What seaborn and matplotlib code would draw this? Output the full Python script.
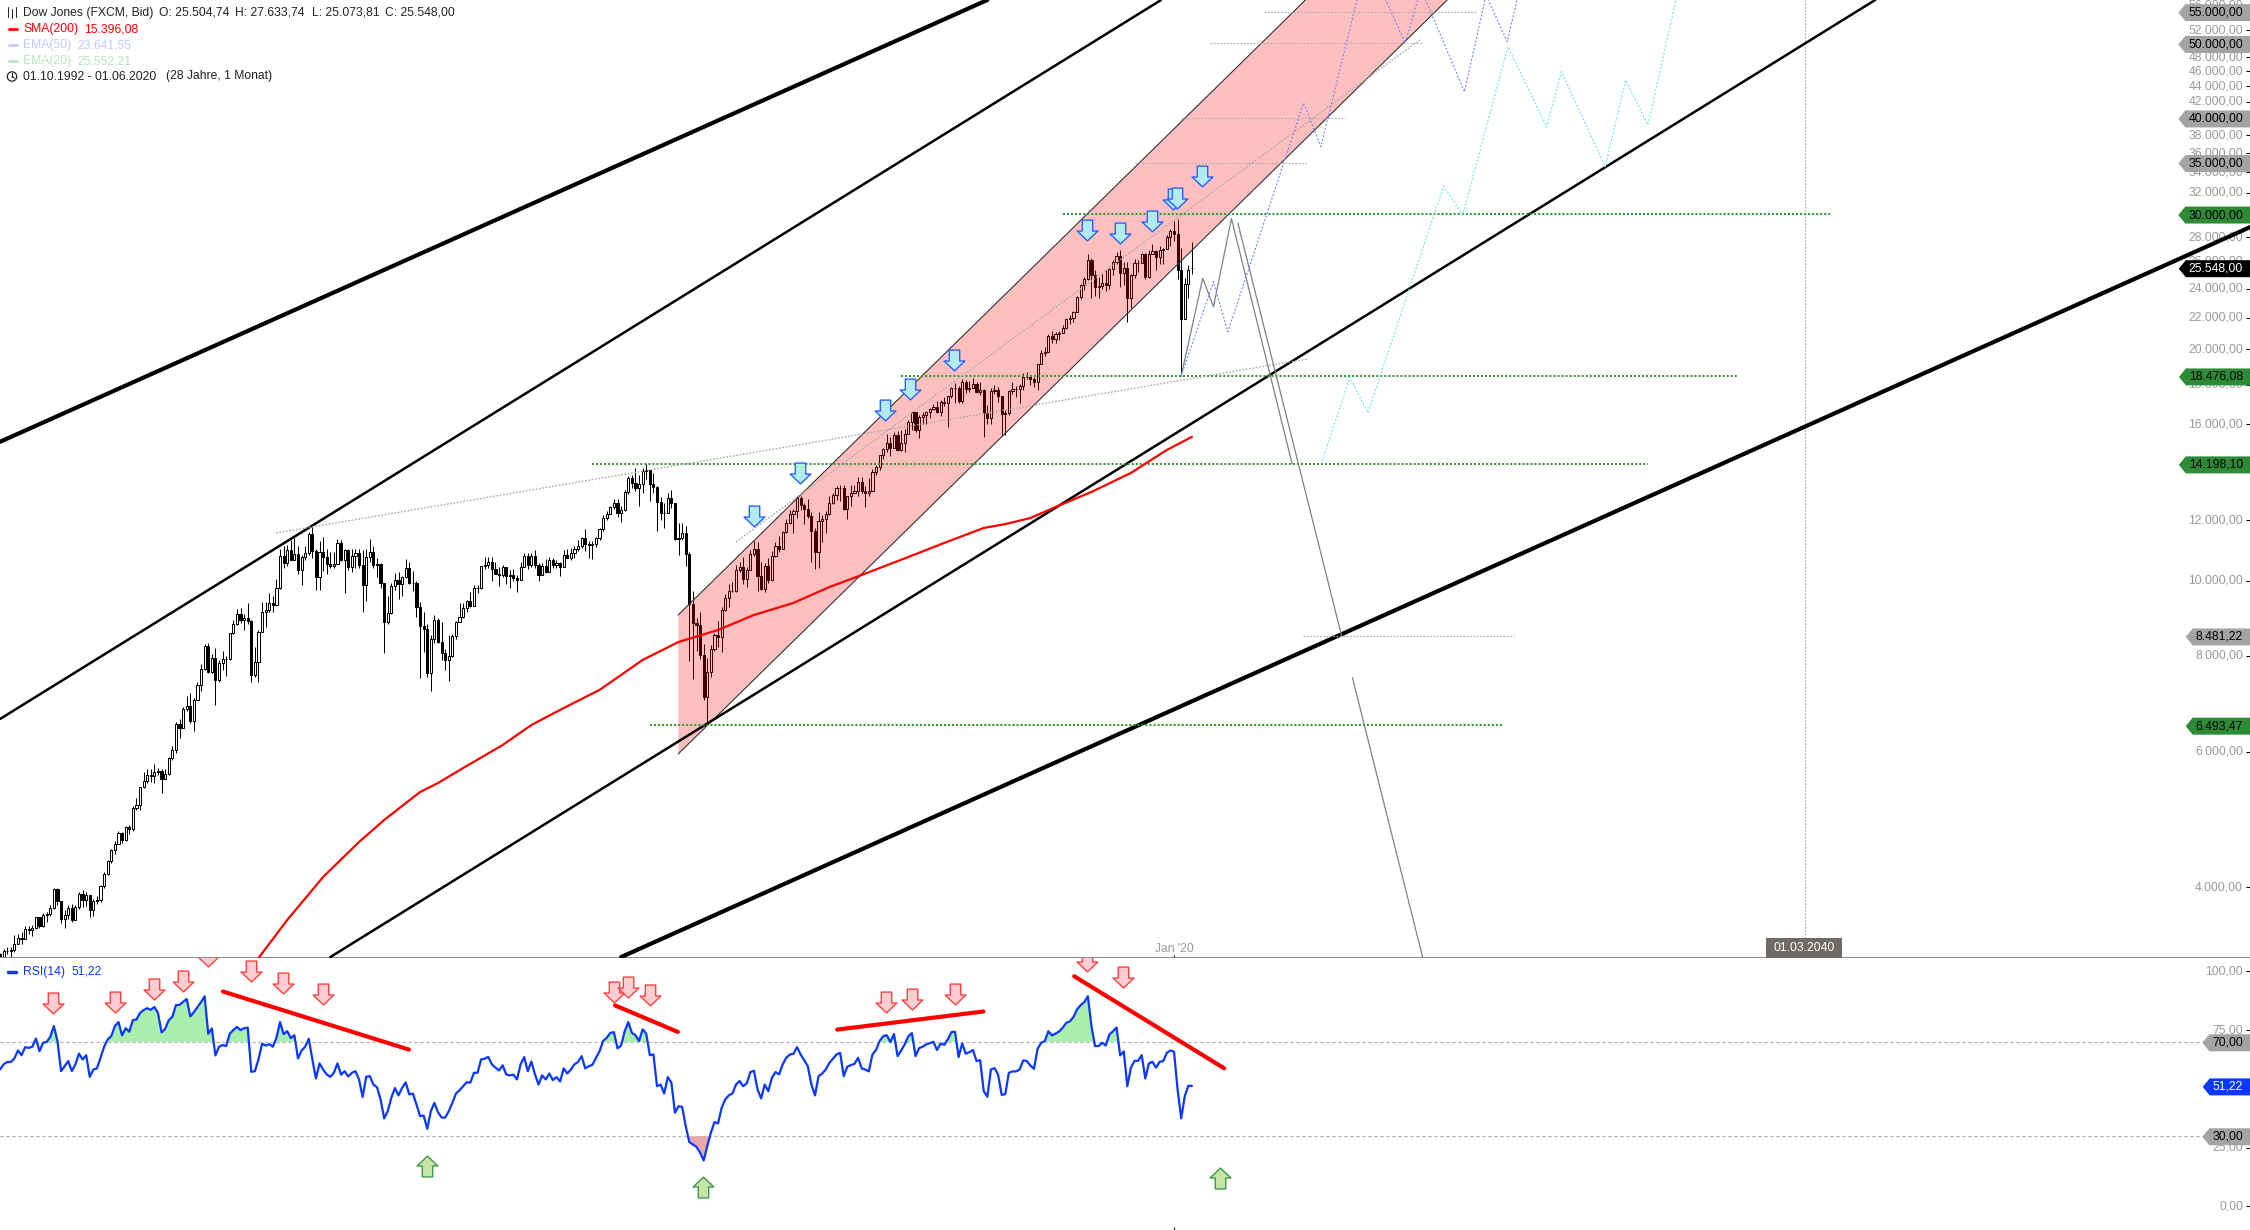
# dow_jones_monthly_chart.py

import numpy as np
import matplotlib
matplotlib.use("Agg")
import matplotlib.pyplot as plt
from matplotlib.lines import Line2D
from matplotlib.patches import Circle
from matplotlib.path import Path
import seaborn as sns

# -------------------------------
# MONTHLY PRICE DATA (Oct 1992 - Jun 2020), bar index = months since Oct 1992
# -------------------------------

closes = [
    3226, 3305, 3301,
    3310, 3370, 3435, 3428, 3527, 3516, 3539, 3651, 3555, 3680, 3684, 3754,
    3978, 3832, 3636, 3682, 3758, 3625, 3765, 3913, 3843, 3908, 3739, 3834,
    3844, 4011, 4158, 4321, 4465, 4556, 4709, 4611, 4789, 4756, 5075, 5117,
    5395, 5486, 5587, 5569, 5643, 5655, 5529, 5616, 5882, 6029, 6522, 6448,
    6813, 6878, 6584, 7009, 7331, 7673, 8223, 7622, 7945, 7442, 7823, 7908,
    7907, 8546, 8800, 9063, 8900, 8952, 8883, 7539, 7843, 8592, 9117, 9181,
    9359, 9307, 9786, 10789, 10560, 10971, 10655, 10829, 10337, 10730, 10878, 11497,
    10941, 10128, 10922, 10734, 10522, 10448, 10522, 11215, 10651, 10971, 10415, 10788,
    10887, 10495, 9879, 10735, 10912, 10502, 10523, 9950, 8848, 9075, 9852, 10021,
    9920, 10106, 10404, 9946, 9925, 9243, 8737, 8664, 7592, 8397, 8896, 8342,
    8054, 7891, 7992, 8480, 8850, 8985, 9234, 9416, 9275, 9801, 9782, 10454,
    10488, 10584, 10358, 10226, 10188, 10435, 10140, 10174, 10080, 10027, 10428, 10783,
    10490, 10766, 10504, 10193, 10467, 10275, 10641, 10482, 10569, 10440, 10806, 10718,
    10864, 10993, 11109, 11367, 11168, 11150, 11186, 11381, 11679, 12080, 12222, 12463,
    12622, 12269, 12354, 13063, 13628, 13409, 13212, 13358, 13896, 13930, 13372, 13265,
    12650, 12266, 12263, 12820, 12638, 11350, 11378, 11544, 10851, 9325, 8829, 8776,
    8001, 7063, 7609, 8168, 8500, 8447, 9172, 9496, 9712, 9713, 10345, 10428,
    10067, 10325, 10857, 11009, 10137, 9774, 10466, 10015, 10788, 11118, 11006, 11578,
    11892, 12226, 12320, 12811, 12570, 12414, 12143, 11614, 10913, 11955, 12046, 12218,
    12633, 12952, 13212, 13214, 12393, 12880, 13009, 13090, 13437, 13096, 13026, 13104,
    13861, 14054, 14579, 14840, 15116, 14910, 15500, 14810, 15130, 15546, 16086, 16577,
    15699, 16322, 16458, 16580, 16717, 16827, 16563, 17098, 17043, 17391, 17828, 17823,
    17165, 18133, 17776, 17841, 18011, 17620, 17690, 16528, 16285, 17664, 17720, 17425,
    16466, 16517, 17685, 17774, 17787, 17930, 18432, 18401, 18308, 18142, 19124, 19763,
    19864, 20812, 20663, 20941, 21009, 21350, 21891, 21948, 22405, 23377, 24272, 24719,
    26149, 25029, 24103, 24163, 24416, 24271, 25415, 25965, 26458, 25116, 25538, 23327,
    24999, 25916, 25929, 26593, 24815, 26600, 26864, 26403, 26917, 27046, 28051, 28538,
    28256, 25409, 21917, 24346, 25383, 25548,
]

highs = [
    3280, 3320, 3340,
    3340, 3460, 3480, 3500, 3555, 3560, 3570, 3660, 3660, 3700, 3710, 3795,
    3990, 3990, 3840, 3730, 3790, 3800, 3790, 3940, 3960, 3940, 3870, 3860,
    3890, 4020, 4180, 4340, 4480, 4590, 4730, 4720, 4800, 4810, 5100, 5220,
    5400, 5650, 5690, 5690, 5780, 5720, 5700, 5700, 5900, 6100, 6560, 6620,
    6850, 7080, 7160, 7040, 7400, 7800, 8270, 8300, 8040, 8180, 7900, 8120,
    7980, 8570, 8900, 9190, 9230, 9070, 9370, 8900, 8200, 8640, 9390, 9380,
    9650, 9560, 10070, 11000, 11110, 11140, 11300, 11390, 11120, 10800, 11090, 11570,
    11750, 11020, 11270, 11420, 11010, 10900, 10910, 11350, 11310, 11000, 11000, 10990,
    10990, 11000, 10980, 10990, 11350, 11120, 10700, 10550, 9950, 9550, 9950, 10240,
    10260, 10150, 10670, 10600, 10290, 10000, 9400, 9100, 8800, 8500, 9040, 8960,
    8850, 8160, 8500, 8540, 8880, 9370, 9350, 9440, 9680, 9880, 9880, 10470,
    10760, 10760, 10750, 10570, 10420, 10490, 10410, 10330, 10380, 10190, 10590, 10860,
    10860, 10860, 10980, 10540, 10550, 10670, 10730, 10720, 10660, 10570, 10980, 10990,
    11050, 11090, 11300, 11420, 11700, 11260, 11260, 11400, 11730, 12170, 12330, 12520,
    12770, 12800, 12500, 13130, 13700, 13720, 14010, 13750, 14020, 14200, 13700, 13800,
    13280, 12850, 12620, 13000, 13150, 12630, 11880, 11880, 11790, 10900, 9700, 8950,
    9100, 8280, 7930, 8260, 8570, 8880, 9240, 9630, 9900, 9960, 10500, 10580,
    10730, 10420, 10960, 11260, 11250, 10600, 10550, 10720, 10950, 11250, 11450, 11630,
    12030, 12380, 12420, 12880, 12880, 12620, 12770, 12300, 11720, 12280, 12190, 12320,
    12900, 13000, 13290, 13340, 13340, 12910, 13340, 13330, 13660, 13660, 13290, 13620,
    13970, 14150, 14590, 14890, 15550, 15400, 15640, 15660, 15710, 15760, 16170, 16590,
    16590, 16420, 16590, 16630, 16770, 16980, 17150, 17180, 17350, 17400, 17900, 18100,
    17950, 18290, 18250, 18180, 18350, 18170, 18140, 17750, 16950, 17800, 17980, 17900,
    17420, 16700, 17720, 18170, 17950, 18020, 18620, 18670, 18450, 18400, 19150, 19990,
    20120, 20980, 21170, 21070, 21110, 21550, 21930, 22180, 22420, 23480, 24330, 24880,
    26620, 26300, 25400, 24860, 25090, 25400, 25500, 26170, 26770, 26950, 26000, 25980,
    25100, 26240, 26150, 26700, 26700, 26900, 27400, 26900, 27300, 27100, 28170, 28700,
    29400, 29570, 27100, 24800, 25760, 27633,
]

lows = [
    3137, 3190, 3270,
    3240, 3290, 3370, 3370, 3430, 3470, 3450, 3530, 3535, 3550, 3600, 3670,
    3750, 3790, 3590, 3540, 3630, 3600, 3620, 3750, 3770, 3780, 3660, 3670,
    3800, 3830, 3990, 4150, 4300, 4410, 4550, 4570, 4590, 4690, 4730, 5030,
    5040, 5380, 5460, 5470, 5460, 5590, 5300, 5520, 5590, 5850, 5980, 6250,
    6430, 6780, 6530, 6390, 7000, 7200, 7650, 7600, 7600, 6900, 7380, 7660,
    7520, 7900, 8530, 8770, 8820, 8630, 8800, 7400, 7500, 7400, 8580, 8700,
    9100, 9120, 9270, 9760, 10390, 10460, 10660, 10640, 10200, 9880, 10650, 10810,
    10700, 9730, 9730, 10300, 10200, 10400, 10400, 10570, 10630, 9650, 10340, 10260,
    10400, 10400, 9100, 9430, 10600, 10400, 10120, 9800, 8060, 8800, 9060, 9740,
    9480, 9550, 10090, 9900, 9700, 8980, 7480, 8090, 7500, 7200, 8300, 8300,
    7900, 7670, 7420, 7970, 8410, 8890, 8950, 9100, 9240, 9400, 9640, 9770,
    10350, 10390, 10000, 10200, 9850, 10130, 9920, 9780, 9990, 9690, 10020, 10440,
    10360, 10440, 10400, 10010, 10170, 10240, 10280, 10390, 10400, 10150, 10420, 10700,
    10650, 10720, 10930, 11040, 10950, 10710, 10690, 11080, 11300, 11630, 12000, 12220,
    12420, 12100, 11930, 12330, 12980, 13200, 13100, 12500, 13000, 13580, 12720, 13020,
    11600, 12020, 11730, 12250, 12440, 11320, 10800, 11300, 10460, 7880, 7450, 8100,
    7910, 7000, 6493, 7500, 8100, 8200, 8080, 9150, 9250, 9670, 9680, 10280,
    9900, 9830, 10400, 10780, 9700, 9730, 9690, 9930, 10000, 10730, 10920, 11000,
    11560, 11850, 11550, 12090, 12380, 11870, 12070, 10600, 10360, 10400, 11230, 11530,
    12200, 12600, 12750, 12710, 12350, 12040, 12500, 13000, 12900, 13000, 12470, 12880,
    13100, 13730, 13930, 14400, 14700, 14550, 14900, 14760, 14780, 14720, 15520, 15700,
    15620, 15340, 16000, 16020, 16300, 16700, 16560, 16370, 16900, 15850, 17300, 17050,
    17030, 17040, 17580, 17620, 17800, 17580, 17470, 15370, 16000, 16000, 17500, 17100,
    15450, 15500, 16450, 17500, 17330, 17060, 17720, 18290, 18000, 17900, 17700, 19140,
    19600, 19830, 20410, 20380, 20550, 21000, 21250, 21600, 21700, 22400, 23240, 23930,
    24660, 23360, 23500, 23340, 24000, 23800, 24000, 25000, 25800, 24100, 24270, 21710,
    22640, 24800, 25200, 25900, 24700, 24800, 26600, 25340, 25800, 25800, 27100, 27300,
    27700, 24680, 18476, 22940, 23360, 25073,
]

# each month opens about where the last one closed, the last open is in the header
opens = [3270] + closes[:-2] + [25504.74]

sma_bars = [72, 80, 90, 100, 107, 117, 122, 129, 140, 148, 157, 167, 179, 189,
            200, 210, 221, 231, 240, 253, 263, 274, 280, 287, 294, 304, 315, 325, 332]
sma_values = [3234, 3624, 4122, 4577, 4889, 5316, 5461, 5712, 6119, 6497, 6836, 7217, 7895, 8331,
              8635, 9032, 9365, 9820, 10181, 10745, 11207, 11720, 11858, 12074, 12480, 13055,
              13820, 14805, 15396]

rsi_values = [
    58.2, 60.4, 61.4, 61.4, 62.9, 66.3, 64.3, 67.7, 67.4, 67.9, 71.4, 66.0,
    69.6, 69.9, 72.1, 76.7, 70.3, 57.5, 59.6, 61.8, 57.5, 60.4, 65.0, 62.5,
    64.3, 55.1, 58.2, 58.7, 63.2, 67.9, 71.0, 72.4, 76.7, 78.4, 72.7, 75.8,
    74.3, 79.2, 79.5, 82.3, 83.5, 84.3, 83.6, 84.8, 82.3, 74.0, 75.5, 79.2,
    80.6, 85.6, 85.7, 87.0, 88.2, 80.8, 82.6, 84.8, 86.9, 89.4, 73.4, 75.7,
    64.2, 67.9, 68.6, 68.2, 73.5, 75.0, 76.3, 75.0, 75.8, 76.0, 57.2, 57.5,
    62.5, 69.2, 68.4, 69.0, 67.9, 71.7, 78.4, 73.3, 74.5, 71.6, 72.8, 62.9,
    66.3, 67.9, 71.3, 62.5, 54.4, 60.8, 58.2, 56.1, 55.1, 56.8, 60.8, 56.0,
    57.5, 55.2, 56.8, 57.5, 54.0, 46.5, 55.1, 55.4, 51.8, 50.7, 45.5, 37.4,
    40.5, 46.2, 50.3, 47.2, 50.4, 52.7, 47.6, 48.0, 43.3, 38.4,
    38.6, 33.0, 40.5, 44.0, 40.0, 37.8, 37.7, 40.5, 44.0, 48.0, 49.4, 51.1,
    52.8, 52.6, 56.8, 56.8, 62.5, 62.8, 63.6, 60.4, 59.0, 57.8, 60.0, 56.1,
    55.7, 56.0, 54.0, 60.4, 63.5, 57.5, 61.6, 56.1, 51.8, 55.7, 54.0, 56.5,
    53.7, 55.0, 53.1, 58.7, 56.5, 58.2, 60.4, 61.4, 63.9, 58.7, 59.6, 60.2,
    63.2, 66.0, 70.4, 71.7, 73.8, 74.1, 67.2, 68.4, 74.5, 78.4, 73.8, 72.8,
    70.3, 75.3, 73.5, 64.3, 64.6, 51.1, 51.8, 48.0, 55.0, 52.6, 39.8, 42.6,
    42.3, 34.1, 27.3, 26.3, 25.3, 22.8, 19.5, 25.6, 31.3, 35.8, 35.3, 41.9,
    45.5, 47.2, 48.0, 51.8, 53.3, 51.1, 52.3, 57.1, 57.7, 49.7, 45.9, 51.8,
    49.0, 54.7, 57.1, 56.1, 60.4, 63.2, 64.6, 64.9, 67.7, 64.6, 62.2, 59.6,
    51.8, 47.2, 55.4, 56.5, 58.2, 61.0, 62.8, 64.6, 65.3,
    55.4, 59.4, 60.1, 60.6, 63.2, 58.7, 58.2, 57.4, 64.6, 66.5, 70.3, 72.4,
    72.8, 69.9, 73.3, 63.9, 66.3, 68.9, 72.4, 73.7, 63.9, 67.3, 67.9, 68.9,
    69.4, 70.0, 66.5, 69.3, 68.7, 71.0, 74.1, 74.3, 63.5, 69.3, 64.9, 65.6,
    66.5, 61.8, 62.2, 49.0, 46.6, 58.2, 58.8, 56.1, 47.4, 47.7, 56.8, 57.4,
    57.4, 58.2, 62.1, 61.8, 59.9, 58.5, 67.0, 69.6, 70.3, 74.5, 72.7, 73.5,
    74.4, 76.0, 78.1, 78.7, 80.6, 83.8, 85.6, 86.9, 89.4, 76.7, 68.2, 68.2,
    69.6, 68.4, 73.1, 74.5, 76.1, 64.2, 65.9, 51.1, 59.0, 61.9, 61.9, 64.3,
    54.4, 60.8, 61.5, 59.0, 61.5, 61.8, 65.3, 66.3, 65.8, 49.7, 37.4, 46.9,
    51.3, 51.22,
]

# -------------------------------
# DRAWN ANALYSIS OBJECTS (bar index, price)
# -------------------------------

thick_a_x, thick_a_y = [0, 275], [15170, 56950]
thick_b_x, thick_b_y = [173, 626.8], [3243, 28860]
mid_a_x, mid_a_y = [0, 323.4], [6615, 56950]
mid_b_x, mid_b_y = [92, 522.3], [3243, 56950]

channel_x = [188.9, 363.6, 403.1, 188.9]
channel_y = [9032, 56950, 56950, 5957]

green_levels = [30000, 18476.08, 14198.10, 6493.47]
green_starts = [296, 251, 165, 181]
green_ends = [510, 484, 459, 419]

gray_levels = [55000, 50000, 40000, 35000, 8481.22]
gray_starts = [352, 337, 329, 316, 363]
gray_ends = [411, 396, 374.5, 364, 421.7]

slant_a_x, slant_a_y = [76.9, 364.1], [11545, 19436]
slant_b_x, slant_b_y = [205, 395.8], [11240, 50680]

zigzag_x = [329, 335, 338, 343, 359.9]
zigzag_y = [18476, 24752, 22730, 29600, 14198]
fall_a_x, fall_a_y = [344.8, 373.7], [29180, 8481]
fall_b_x, fall_b_y = [376.7, 396.3], [7487, 3234]

blue_path_x = [329, 338, 342, 363.1, 367.9, 380.8, 391.4, 395.8, 407.9, 413.9, 419.8, 426.2]
blue_path_y = [18476, 24505, 21097, 41840, 36712, 64400, 50070, 58880, 43280, 57800, 50290, 67150]

cyan_path_x = [368, 376, 381, 402.1, 407.4, 420, 430.8, 434.9, 447.1, 452.8, 459, 466.8]
cyan_path_y = [14198, 18416, 16535, 32630, 29916, 49530, 38936, 45960, 34576, 44800, 39160, 56950]

blue_arrow_x = [210, 222.8, 246.5, 253.5, 265.7, 302.8, 312, 320.9, 326.7, 327.9, 334.8]
blue_arrow_y = [12145, 13820, 16690, 17768, 19380, 28610, 28350, 29380, 31385, 31480, 33620]

# RSI panel objects
red_arrow_x = [14.9, 32, 42.9, 50.9, 58, 70, 78.9, 90, 171, 174.8, 181, 246.8, 253.9, 265.9, 302.8, 312.8]
red_arrow_y = [86.5, 86.9, 92.5, 95.8, 106.4, 100.2, 95, 90.4, 91.3, 93.5, 90, 86.8, 88.3, 90.4, 104.5, 97.5]
green_arrow_x = [119, 195.9, 339.9]
green_arrow_y = [17.3, 8.3, 12]

rsi_trend_x = [[62.1, 113.9], [171.3, 188.8], [233.2, 273.9], [299.2, 341]]
rsi_trend_y = [[91.4, 66.7], [85.5, 74.2], [75.2, 82.9], [97.9, 58.7]]

# -------------------------------
# AXIS LABELS AND TAGS
# -------------------------------

price_ticks = [4000, 6000, 8000, 10000, 12000, 14000, 16000, 18000, 20000, 22000, 24000, 26000,
               28000, 30000, 32000, 34000, 36000, 38000, 40000, 42000, 44000, 46000, 48000,
               50000, 52000, 56000]
rsi_ticks = [0, 25, 75, 100]

GREEN_TAG = "#2e8b35"
GRAY_TAG = "#a3a3a3"
BLUE = "#0a38ff"
RED = "#ff0000"


def german(value):
    return f"{value:,.2f}".replace(",", "#").replace(".", ",").replace("#", ".")


def tag_box(x0, y0, width, height, mutation_size):
    # price tag: flat on the right, pointed on the left
    left = x0 - 3
    bottom = y0 - 2.5
    top = y0 + height + 2.5
    return Path([(left - 7, (bottom + top) / 2), (left, top), (x0 + width + 10, top),
                 (x0 + width + 10, bottom), (left, bottom), (left - 7, (bottom + top) / 2)],
                closed=True)


def date_box(x0, y0, width, height, mutation_size):
    pad_x = (76 - width) / 2
    pad_y = (20 - height) / 2
    return Path([(x0 - pad_x, y0 - pad_y), (x0 - pad_x, y0 + height + pad_y),
                 (x0 + width + pad_x, y0 + height + pad_y), (x0 + width + pad_x, y0 - pad_y),
                 (x0 - pad_x, y0 - pad_y)], closed=True)


def add_tag(ax, value, face, text_color="black"):
    ax.annotate(german(value), xy=(1, value), xycoords=ax.get_yaxis_transform(), xytext=(-5, -0.7),
                textcoords="offset points", ha="right", va="center", fontsize=8.7,
                color=text_color, zorder=10, annotation_clip=False,
                bbox=dict(boxstyle=tag_box, fc=face, ec="none"))


def draw_line(ax, x, y, **kws):
    sns.lineplot(x=x, y=y, ax=ax, estimator=None, sort=False, legend=False, **kws)


def style_value_axis(ax, ticks):
    ax.set_yticks(ticks, labels=[german(t) for t in ticks])
    ax.minorticks_off()
    ax.yaxis.tick_right()
    ax.tick_params(axis="y", which="major", direction="in", length=2.9, width=0.72, pad=-5,
                   labelsize=8.7, labelcolor="#999999", color="black")
    for label in ax.get_yticklabels():
        label.set_ha("right")
        label.set_va("center")
    ax.set_xlabel("")
    ax.set_ylabel("")


# -------------------------------
# FIGURE
# -------------------------------

sns.set_theme(style="white")
plt.rcParams["font.family"] = ["Liberation Sans", "DejaVu Sans"]

fig = plt.figure(figsize=(22.5, 12.3), dpi=100)
ax_price = fig.add_axes([0, 272 / 1230, 1, 958 / 1230])
ax_rsi = fig.add_axes([0, 0, 1, 272 / 1230])

ax_price.set_yscale("log")

# Candles
bars = np.arange(len(closes))
o = np.array(opens, dtype=float)
c = np.array(closes, dtype=float)
up = c >= o
ax_price.vlines(bars, lows, highs, color="black", lw=0.72, zorder=2)
ax_price.bar(bars, np.abs(c - o), bottom=np.minimum(o, c), width=0.6,
             color=np.where(up, "white", "black"), edgecolor="black", linewidth=0.72, zorder=2.1)

# Pink channel sits on top of the candles
ax_price.fill(channel_x, channel_y, color=RED, alpha=0.25, lw=0, zorder=3)
draw_line(ax_price, channel_x[:2], channel_y[:2], color="#333333", lw=0.8, zorder=3.5)
draw_line(ax_price, channel_x[2:], channel_y[2:], color="#333333", lw=0.8, zorder=3.5)

# Trend lines
draw_line(ax_price, thick_a_x, thick_a_y, color="black", lw=3, zorder=4)
draw_line(ax_price, thick_b_x, thick_b_y, color="black", lw=3, zorder=4)
draw_line(ax_price, mid_a_x, mid_a_y, color="black", lw=1.8, zorder=4)
draw_line(ax_price, mid_b_x, mid_b_y, color="black", lw=1.8, zorder=4)

# Horizontal levels
for level, start, end in zip(green_levels, green_starts, green_ends):
    ax_price.hlines(level, start, end, color="#2a9a35", lw=1.45, linestyles=[(0, (1, 1))], zorder=4)
for level, start, end in zip(gray_levels, gray_starts, gray_ends):
    ax_price.hlines(level, start, end, color="#aaaaaa", lw=0.8, linestyles=[(0, (1.5, 1.5))], zorder=4)

# Slanted helper lines
draw_line(ax_price, slant_a_x, slant_a_y, color="#aaaaaa", lw=1, linestyle=(0, (1.2, 1.2)), zorder=4)
draw_line(ax_price, slant_b_x, slant_b_y, color="#aaaaaa", lw=1, linestyle=(0, (1.2, 1.2)), zorder=4)

# Projected paths
draw_line(ax_price, zigzag_x, zigzag_y, color="#808080", lw=0.9, zorder=4)
draw_line(ax_price, fall_a_x, fall_a_y, color="#808080", lw=0.9, zorder=4)
draw_line(ax_price, fall_b_x, fall_b_y, color="#808080", lw=0.9, zorder=4)
draw_line(ax_price, blue_path_x, blue_path_y, color="#7484ff", lw=0.85, linestyle=(0, (1.6, 1.6)), zorder=4)
draw_line(ax_price, cyan_path_x, cyan_path_y, color="#6fe3ea", lw=0.85, linestyle=(0, (1.6, 1.6)), zorder=4)

# SMA(200)
draw_line(ax_price, sma_bars, sma_values, color=RED, lw=1.6, zorder=5)

# Arrows as custom markers
ARROW_DOWN = Path([(-0.5, 1), (0.5, 1), (0.5, -0.05), (1, -0.05), (0, -1), (-1, -0.05), (-0.5, -0.05), (-0.5, 1)],
                  closed=True)
ARROW_UP = Path([(-0.5, -1), (0.5, -1), (0.5, 0.05), (1, 0.05), (0, 1), (-1, 0.05), (-0.5, 0.05), (-0.5, -1)],
                closed=True)
ax_price.plot(blue_arrow_x, blue_arrow_y, ls="none", marker=ARROW_DOWN, ms=15, mfc="#b2ebf2", mec="#2962ff",
              mew=1, zorder=6)

# Level lines end at the tags on the right
for level in gray_levels:
    add_tag(ax_price, level, GRAY_TAG)
for level in green_levels:
    add_tag(ax_price, level, GREEN_TAG)
add_tag(ax_price, 25548.00, "black", "white")

# RSI panel
rsi_bars = np.arange(len(rsi_values))
rsi = np.array(rsi_values)
ax_rsi.axhline(70, color="#aaaaaa", lw=0.8, ls=(0, (2.7, 2.7)), zorder=1)
ax_rsi.axhline(30, color="#aaaaaa", lw=0.8, ls=(0, (2.7, 2.7)), zorder=1)
ax_rsi.fill_between(rsi_bars, rsi, 70, where=rsi > 70, interpolate=True, color="#abedab", lw=0, zorder=2)
ax_rsi.fill_between(rsi_bars, rsi, 30, where=rsi < 30, interpolate=True, color="#eba8a8", lw=0, zorder=2)
draw_line(ax_rsi, rsi_bars, rsi_values, color=BLUE, lw=1.6, zorder=3)
for trend_x, trend_y in zip(rsi_trend_x, rsi_trend_y):
    draw_line(ax_rsi, trend_x, trend_y, color=RED, lw=3, zorder=4)
ax_rsi.plot(red_arrow_x, red_arrow_y, ls="none", marker=ARROW_DOWN, ms=15, mfc="#ffcdd2", mec="#ff4040",
            mew=1, zorder=5)
ax_rsi.plot(green_arrow_x, green_arrow_y, ls="none", marker=ARROW_UP, ms=15, mfc="#c5e4a5", mec="#3c9a48",
            mew=1, zorder=5)
add_tag(ax_rsi, 70, GRAY_TAG)
add_tag(ax_rsi, 30, GRAY_TAG)
add_tag(ax_rsi, 51.22, BLUE, "white")

# Future date cursor
ax_price.axvline(502.8, color="#aaaaaa", lw=0.8, ls=(0, (1.5, 1.5)), zorder=1)
ax_price.annotate("01.03.2040", xy=(502.5, 0.0), xycoords=ax_price.get_xaxis_transform(), xytext=(0, 7),
                  textcoords="offset points", ha="center", va="center", fontsize=8.7, color="white", zorder=9,
                  bbox=dict(boxstyle=date_box, fc="#6e6a66", ec="none"))

# Axes
ax_price.set_xlim(0, 626.7)
ax_price.set_ylim(3234, 56950)
ax_rsi.set_xlim(0, 626.7)
ax_rsi.set_ylim(-10.09, 105.66)
style_value_axis(ax_price, price_ticks)
style_value_axis(ax_rsi, rsi_ticks)

ax_price.set_xticks([327], labels=["Jan '20"])
ax_price.tick_params(axis="x", direction="in", length=2.2, width=0.72, color="black", pad=-11,
                     labelsize=8.7, labelcolor="#999999", bottom=True)
ax_rsi.set_xticks([327], labels=[""])
ax_rsi.tick_params(axis="x", direction="in", length=2.2, width=0.72, color="black", bottom=True)

for ax in (ax_price, ax_rsi):
    for spine in ax.spines.values():
        spine.set_visible(False)
ax_price.spines["bottom"].set_visible(True)
ax_price.spines["bottom"].set_color("#888888")
ax_price.spines["bottom"].set_linewidth(1.4)

# -------------------------------
# HEADER TEXT (figure pixels)
# -------------------------------


def header_text(x, y, text, color):
    fig.text(x / 2250, 1 - y / 1230, text, fontsize=8.7, color=color, va="center", ha="left")


def header_line(x0, y0, x1, y1, color, lw):
    fig.add_artist(Line2D([x0 / 2250, x1 / 2250], [1 - y0 / 1230, 1 - y1 / 1230], color=color, lw=lw))


INK = "#222222"
header_text(23, 12.6, "Dow Jones (FXCM, Bid)", INK)
header_text(159, 12.6, "O: 25.504,74", INK)
header_text(235, 12.6, "H: 27.633,74", INK)
header_text(311.5, 12.6, "L: 25.073,81", INK)
header_text(385, 12.6, "C: 25.548,00", INK)
header_text(23, 29, "SMA(200)", RED)
header_text(84, 29, "15.396,08", RED)
header_text(23, 45, "EMA(50)", "#c3cbff")
header_text(77.5, 45, "23.641,55", "#c3cbff")
header_text(23, 61, "EMA(20)", "#bfe3c3")
header_text(77.5, 61, "25.552,21", "#bfe3c3")
header_text(23, 76.5, "01.10.1992 - 01.06.2020", INK)
header_text(166, 76.5, "(28 Jahre, 1 Monat)", INK)
header_text(23, 972, "RSI(14)", BLUE)
header_text(71, 972, "51,22", BLUE)

header_line(9, 29, 17, 29, RED, 2)
header_line(9, 45, 17, 45, "#c3cbff", 2)
header_line(9, 61, 17, 61, "#bfe3c3", 2)
header_line(8, 972, 16, 972, BLUE, 2.5)

# candle icon and clock icon
for icon_x, y_top, y_bottom in [(8, 7, 17), (12, 9, 18), (15.5, 7, 17)]:
    header_line(icon_x, y_top, icon_x, y_bottom, "#222222", 0.7)
fig.add_artist(Circle((0.12, 12.3 - 0.765), radius=0.047, transform=fig.dpi_scale_trans, fill=False,
                      ec="#222222", lw=0.9))
header_line(12, 76.5, 12, 73, "#222222", 0.8)
header_line(12, 76.5, 14.5, 78, "#222222", 0.8)

fig.savefig("out.png", dpi=100)
